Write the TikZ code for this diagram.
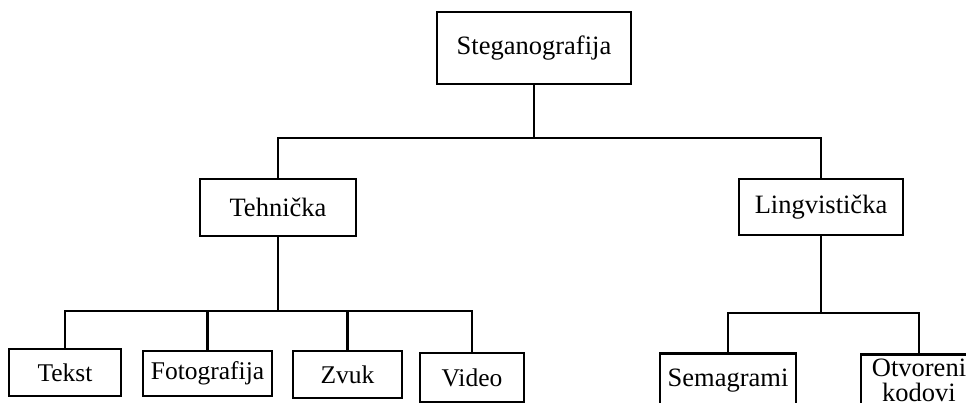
\documentclass[tikz,border=0pt]{standalone}
\usepackage{fontspec}
\setmainfont{Liberation Serif}
\usetikzlibrary{calc}

\begin{document}
\begin{tikzpicture}[x=1pt,y=-1pt,line width=2.6pt,
    bx/.style={draw,line width=2.8pt,inner sep=1pt,font=\fontsize{26.5}{25}\selectfont},
    bxs/.style={bx,font=\fontsize{25.5}{25}\selectfont}]
 \useasboundingbox (0,0) rectangle (966,403);
 \clip (0,0) rectangle (966,403);
 \node[bx,minimum width=194,minimum height=72] (steg) at (534,48) {Steganografija};
 \node[bx,minimum width=156,minimum height=57] (teh) at (278,207.5) {Tehnička};
 \node[bx,minimum width=164,minimum height=56] (ling) at (821,207) {Lingvistička};
 \node[bxs,minimum width=112,minimum height=47] (tekst) at (65,372.5) {Tekst};
 \node[bxs,minimum width=129,minimum height=45] (foto) at (207.5,373.5) {Fotografija};
 \node[bxs,minimum width=109,minimum height=47] (zvuk) at (347.5,374.5) {Zvuk};
 \node[bxs,minimum width=104,minimum height=49] (video) at (472,377.5) {Video};
 \node[bx,minimum width=136,minimum height=54,anchor=north] (sema) at (728,352) {Semagrami};
 \node[bx,minimum width=116,minimum height=52,anchor=north,align=center,inner ysep=1pt] (otv) at (919,353) {Otvoreni\\kodovi};
 % busses
 \coordinate (topbus) at (534,138);
 \coordinate (tehbus) at (278,311);
 \coordinate (lingbus) at (821,313);
 \draw (steg.south) -- (topbus) -| (teh.north);
 \draw (topbus) -| (ling.north);
 \draw (teh.south) -- (tehbus);
 \foreach \X in {tekst,foto,zvuk,video} {\draw (tehbus) -| (\X.north);}
 \draw (ling.south) -- (lingbus) -| (sema.north);
 \draw (lingbus) -| (otv.north);
\end{tikzpicture}
\end{document}
